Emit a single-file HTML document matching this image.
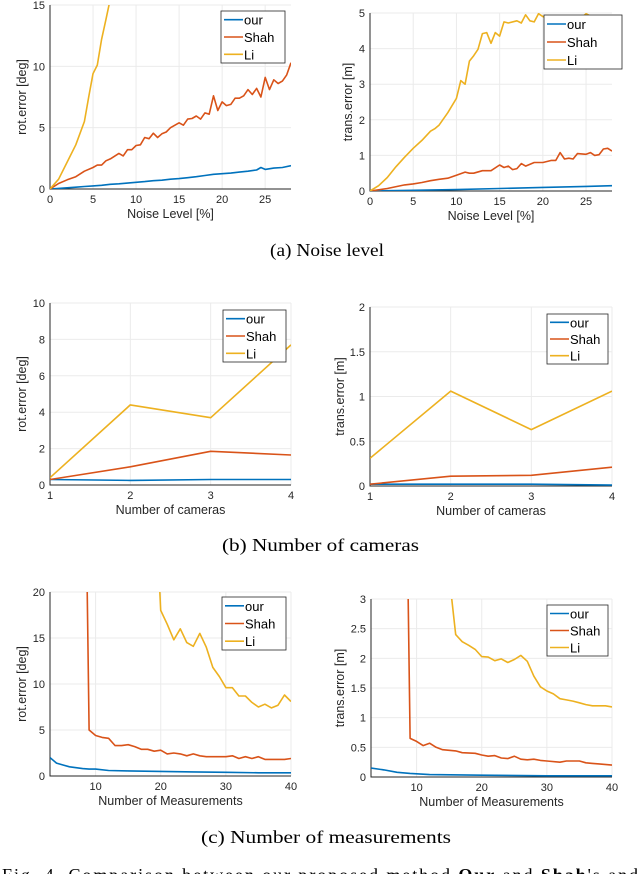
<!DOCTYPE html>
<html><head><meta charset="utf-8">
<style>
html,body{margin:0;padding:0;background:#fff;}
svg{display:block;}
text{font-family:"Liberation Sans",sans-serif;}
.cap{font-family:"Liberation Serif",serif;font-size:18px;fill:#000;}
</style></head>
<body>
<svg id="fig" width="640" height="874" viewBox="0 0 640 874">
<text class="cap" x="270" y="256" textLength="114" lengthAdjust="spacingAndGlyphs">(a)  Noise level</text>
<text class="cap" x="222" y="551" textLength="197" lengthAdjust="spacingAndGlyphs">(b)  Number of cameras</text>
<text class="cap" x="201" y="843" textLength="250" lengthAdjust="spacingAndGlyphs">(c)  Number of measurements</text>
<text class="cap" x="2" y="881" textLength="636" lengthAdjust="spacing">Fig. 4.   Comparison between our proposed method <tspan font-weight="bold">Our</tspan> and <tspan font-weight="bold">Shah</tspan>'s and</text>
</svg>
<script>
// ---- data ----
const noiseRotOurX=[0,1,2,3,4,5,6,7,8,9,10,11,12,13,14,15,16,17,18,19,20,21,22,23,24,24.5,25,26,27,28];
const noiseRotOurY=[0,0.05,0.1,0.15,0.2,0.25,0.3,0.38,0.42,0.48,0.55,0.6,0.68,0.72,0.8,0.85,0.92,1.0,1.1,1.2,1.25,1.3,1.38,1.45,1.55,1.75,1.6,1.7,1.75,1.9];
const noiseRotShahX=[0,1,2,3,4,5,5.5,6,6.5,7,8,8.5,9,9.5,10,10.5,11,11.5,12,12.5,13,13.5,14,15,15.5,16,16.5,17,17.5,18,18.5,19,19.5,20,20.5,21,21.5,22,22.5,23,23.5,24,24.5,25,25.5,26,26.5,27,27.5,28];
const noiseRotShahY=[0,0.45,0.75,1.0,1.45,1.75,1.95,1.95,2.3,2.45,2.9,2.7,3.2,3.2,3.55,3.6,4.2,4.1,4.55,4.2,4.5,4.65,5.0,5.4,5.2,5.7,5.75,5.95,5.7,6.2,6.1,7.6,6.4,7.1,6.8,6.9,7.4,7.4,7.6,8.1,7.7,8.2,7.5,9.1,8.1,8.9,8.6,8.8,9.3,10.3];
const noiseRotLiX=[0,1,2,3,4,4.5,5,5.5,6,6.5,7];
const noiseRotLiY=[0,0.8,2.2,3.6,5.5,7.5,9.4,10.1,12.2,13.8,15.5];

const noiseTrOurX=[0,5,10,15,20,25,28];
const noiseTrOurY=[0,0.02,0.04,0.07,0.1,0.13,0.15];
const noiseTrShahX=[0,2,4,5,6,7,8,9,10,11,11.5,12,13,14,15,15.5,16,16.5,17,17.5,18,19,20,21,21.5,22,22.5,23,23.5,24,25,25.5,26,26.5,27,27.5,28];
const noiseTrShahY=[0,0.07,0.17,0.2,0.24,0.29,0.33,0.36,0.44,0.53,0.5,0.5,0.57,0.57,0.73,0.66,0.7,0.6,0.63,0.77,0.7,0.8,0.8,0.86,0.86,1.08,0.9,0.92,0.9,1.05,1.03,1.08,1.0,1.02,1.18,1.2,1.12];
const noiseTrLiX=[0,1,2,3,4,5,6,7,7.5,8,9,10,10.5,11,11.5,12,12.5,13,13.5,14,14.5,15,15.5,16,17,17.5,18,18.5,19,19.5,20,21,22,22.5,23,24,24.5,25,26,27,27.5,28];
const noiseTrLiY=[0,0.15,0.38,0.68,0.95,1.2,1.42,1.68,1.75,1.85,2.2,2.6,3.1,3.0,3.65,3.8,3.98,4.42,4.45,4.15,4.45,4.35,4.75,4.72,4.78,4.72,4.95,4.78,4.75,4.98,4.9,4.82,4.9,4.8,4.85,4.92,4.88,4.98,4.85,4.82,4.9,4.8];

const camX=[1,2,3,4];
const camRotOur=[0.3,0.25,0.3,0.3];
const camRotShah=[0.3,1.0,1.85,1.65];
const camRotLi=[0.4,4.4,3.7,7.7];
const camTrOur=[0.02,0.02,0.02,0.01];
const camTrShah=[0.02,0.11,0.12,0.21];
const camTrLi=[0.31,1.06,0.63,1.06];

const measRotOurX=[3,4,5,6,7,8,9,10,12,15,20,25,30,35,40];
const measRotOurY=[2.0,1.4,1.2,1.0,0.9,0.8,0.75,0.75,0.6,0.55,0.5,0.45,0.4,0.35,0.35];
const measRotShahX=[8.7,9,10,11,12,13,14,15,16,17,18,19,20,21,22,23,24,25,26,27,28,29,30,31,32,33,34,35,36,37,38,39,40];
const measRotShahY=[21,5.0,4.4,4.2,4.1,3.3,3.3,3.4,3.2,2.9,2.9,2.7,2.8,2.4,2.5,2.4,2.2,2.4,2.2,2.1,2.1,2.1,2.1,2.2,1.9,2.1,1.9,2.1,1.8,1.8,1.8,1.8,1.9];
const measRotLiX=[19.8,20,21,22,23,24,25,26,27,28,29,30,31,32,33,34,35,36,37,38,39,40];
const measRotLiY=[21,18,16.5,14.8,16.0,14.5,14.1,15.5,14.0,11.8,10.8,9.6,9.6,8.7,8.7,8.0,7.5,7.8,7.4,7.7,8.8,8.1];
const measTrOurX=[3,5,7,9,12,20,30,40];
const measTrOurY=[0.15,0.12,0.08,0.06,0.04,0.03,0.02,0.02];
const measTrShahX=[8.7,9,10,11,12,13,14,16,17,19,20,21,22,23,24,25,26,27,28,29,30,32,33,35,36,37,38,40];
const measTrShahY=[3.1,0.65,0.6,0.53,0.57,0.5,0.46,0.44,0.41,0.4,0.37,0.35,0.36,0.32,0.31,0.35,0.3,0.29,0.3,0.28,0.27,0.25,0.27,0.27,0.24,0.23,0.22,0.2];
const measTrLiX=[15.3,16,17,18,19,20,21,22,23,24,25,26,27,28,29,30,31,32,33,34,35,36,37,38,39,40];
const measTrLiY=[3.1,2.4,2.28,2.22,2.15,2.03,2.02,1.96,1.99,1.93,1.98,2.05,1.95,1.7,1.52,1.45,1.4,1.32,1.3,1.28,1.25,1.22,1.2,1.2,1.2,1.18];

const noiseXTicks=[0,5,10,15,20,25];
const rotNoiseYTicks=[0,5,10,15];
const trNoiseYTicks=[0,1,2,3,4,5];
const camXTicks=[1,2,3,4];
const camRotYTicks=[0,2,4,6,8,10];
const camTrYTicks=[0,0.5,1,1.5,2];
const measXTicks=[10,20,30,40];
const measRotYTicks=[0,5,10,15,20];
const measTrYTicks=[0,0.5,1,1.5,2,2.5,3];

const COLORS=['#0072BD','#D95319','#EDB120'];
const NAMES=['our','Shah','Li'];
const NS='http://www.w3.org/2000/svg';
const svg=document.getElementById('fig');
let clipId=0;
function el(tag,attrs,parent){const e=document.createElementNS(NS,tag);for(const k in attrs)e.setAttribute(k,attrs[k]);(parent||svg).appendChild(e);return e;}

function plot(cfg){
  const g=el('g',{});
  
  
  const L=cfg.box[0],T=cfg.box[1],R=cfg.box[2],B=cfg.box[3];
  const sx=v=>L+(v-cfg.xr[0])/(cfg.xr[1]-cfg.xr[0])*(R-L);
  const sy=v=>B-(v-cfg.yr[0])/(cfg.yr[1]-cfg.yr[0])*(B-T);
  el('rect',{x:L,y:T,width:R-L,height:B-T,fill:'#fff'},g);
  cfg.xt.forEach(t=>{const x=sx(t);
    const gl=el('line',{x1:x,x2:x,y1:T,y2:B,stroke:'#ebebeb','stroke-width':1},g);
    
    
    const tl=el('text',{x:x,y:B+14,'text-anchor':'middle','font-size':11,fill:'#262626'},g);tl.textContent=t;
    
    });
  cfg.yt.forEach(t=>{const y=sy(t);
    const gl=el('line',{x1:L,x2:R,y1:y,y2:y,stroke:'#ebebeb','stroke-width':1},g);
    
    
    const tl=el('text',{x:L-5,y:y+4,'text-anchor':'end','font-size':11,fill:'#262626'},g);tl.textContent=t;
    
    });
  const ax=el('path',{d:`M${L},${T}V${B}H${R}`,stroke:'#262626','stroke-width':1,fill:'none'},g);
  
  
  const id='c'+(clipId++);
  const cp=el('clipPath',{id:id},g);el('rect',{x:L,y:T,width:R-L,height:B-T},cp);
  cfg.series.forEach((s,i)=>{
    const d=s[0].map((x,j)=>(j?'L':'M')+sx(x).toFixed(1)+','+sy(s[1][j]).toFixed(1)).join('');
    const p=el('path',{d:d,stroke:COLORS[i],'stroke-width':1.6,fill:'none','clip-path':`url(#${id})`,'stroke-linejoin':'round'},g);
    
    
  });
  const xl=el('text',{x:(L+R)/2,y:B+29,'text-anchor':'middle','font-size':12.5,fill:'#262626'},g);xl.textContent=cfg.xlab;
  
  
  const yx=cfg.ylx, yy=(T+B)/2;
  const yl=el('text',{x:yx,y:yy,'text-anchor':'middle','font-size':12.5,fill:'#262626',transform:`rotate(-90 ${yx} ${yy})`},g);yl.textContent=cfg.ylab;
  
  
  const lg=cfg.leg;
  const lgg=el('g',{},g);
  
  
  el('rect',{x:lg[0],y:lg[1],width:lg[2]-lg[0],height:lg[3]-lg[1],fill:'#fff',stroke:'#262626','stroke-width':0.8},lgg);
  const rh=(lg[3]-lg[1])/3;
  NAMES.forEach((n,i)=>{const cy=lg[1]+rh*(i+0.5);
    const e=el('g',{},lgg);
    
    
    el('line',{x1:lg[0]+3,x2:lg[0]+22,y1:cy,y2:cy,stroke:COLORS[i],'stroke-width':1.6},e);
    const t=el('text',{x:lg[0]+23,y:cy+5,'font-size':13,fill:'#000'},e);t.textContent=n;});
}

plot({name:'chart-noise-rotation',box:[50,5,291,189],xr:[0,28],yr:[0,15],xt:noiseXTicks,yt:rotNoiseYTicks,xlab:'Noise Level [%]',ylab:'rot.error [deg]',ylx:26,leg:[221,11,285,63],
 series:[[noiseRotOurX,noiseRotOurY],[noiseRotShahX,noiseRotShahY],[noiseRotLiX,noiseRotLiY]]});
plot({name:'chart-noise-translation',box:[370,13,612,191],xr:[0,28],yr:[0,5],xt:noiseXTicks,yt:trNoiseYTicks,xlab:'Noise Level [%]',ylab:'trans.error [m]',ylx:352,leg:[544,15,622,69],
 series:[[noiseTrOurX,noiseTrOurY],[noiseTrShahX,noiseTrShahY],[noiseTrLiX,noiseTrLiY]]});
plot({name:'chart-cameras-rotation',box:[50,303,291,485],xr:[1,4],yr:[0,10],xt:camXTicks,yt:camRotYTicks,xlab:'Number of cameras',ylab:'rot.error [deg]',ylx:26,leg:[223,310,286,362],
 series:[[camX,camRotOur],[camX,camRotShah],[camX,camRotLi]]});
plot({name:'chart-cameras-translation',box:[370,307,612,486],xr:[1,4],yr:[0,2],xt:camXTicks,yt:camTrYTicks,xlab:'Number of cameras',ylab:'trans.error [m]',ylx:344,leg:[547,314,608,364],
 series:[[camX,camTrOur],[camX,camTrShah],[camX,camTrLi]]});
plot({name:'chart-measurements-rotation',box:[50,592,291,776],xr:[3,40],yr:[0,20],xt:measXTicks,yt:measRotYTicks,xlab:'Number of Measurements',ylab:'rot.error [deg]',ylx:26,leg:[222,597,286,650],
 series:[[measRotOurX,measRotOurY],[measRotShahX,measRotShahY],[measRotLiX,measRotLiY]]});
plot({name:'chart-measurements-translation',box:[371,599,612,777],xr:[3,40],yr:[0,3],xt:measXTicks,yt:measTrYTicks,xlab:'Number of Measurements',ylab:'trans.error [m]',ylx:344,leg:[547,605,608,656],
 series:[[measTrOurX,measTrOurY],[measTrShahX,measTrShahY],[measTrLiX,measTrLiY]]});
</script>
</body></html>
